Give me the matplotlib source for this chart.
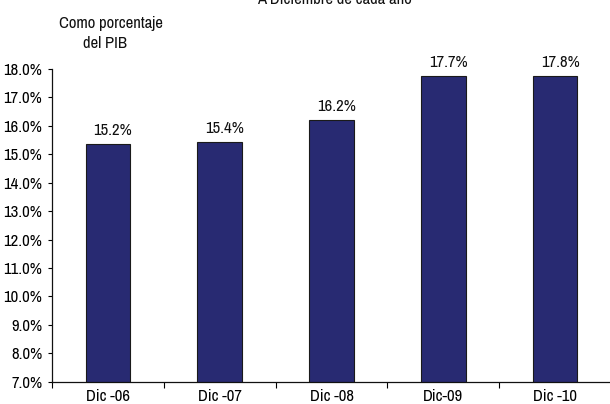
import matplotlib
matplotlib.use("Agg")
import logging
import matplotlib.pyplot as plt
from matplotlib.ticker import FixedLocator, FuncFormatter

logging.getLogger("matplotlib.font_manager").setLevel(logging.ERROR)
plt.rcParams['font.family'] = ['Liberation Sans Narrow', 'Arial Narrow', 'Archivo Narrow',
                               'Liberation Sans', 'DejaVu Sans']

# data
categories = ["Dic -06", "Dic -07", "Dic -08", "Dic-09", "Dic -10"]
values = [15.35, 15.44, 16.2, 17.76, 17.77]
value_labels = ["15.2%", "15.4%", "16.2%", "17.7%", "17.8%"]
y_ticks = [7, 8, 9, 10, 11, 12, 13, 14, 15, 16, 17, 18]

bar_color = "#282a72"
fs = 12

fig = plt.figure(figsize=(6.10, 4.04), dpi=100)
ax = fig.add_axes([52 / 610, 22.3 / 404, 559 / 610, 312.7 / 404])

x = list(range(len(categories)))
bars = ax.bar(x, values, width=0.4, color=bar_color, edgecolor="#1a1a1a", linewidth=0.8, zorder=2)

for xi, v, lab in zip(x, values, value_labels):
    ax.annotate(lab, (xi, v), xytext=(5, 6), textcoords="offset pixels",
                ha="center", va="bottom", fontsize=fs, color="#111111")

ax.set_xlim(-0.5, 4.5)
ax.set_ylim(7, 18)
ax.set_yticks(y_ticks)
ax.yaxis.set_major_formatter(FuncFormatter(lambda v, p: "%.1f%%" % v))
ax.set_xticks(x)
ax.set_xticklabels(categories)
ax.xaxis.set_minor_locator(FixedLocator([i - 0.5 for i in range(len(categories))]))
ax.tick_params(axis="x", which="major", length=0, pad=5, labelsize=fs)
ax.tick_params(axis="x", which="minor", length=4, width=0.8, direction="out")
ax.tick_params(axis="y", length=3, width=0.8, direction="out", pad=4, labelsize=fs)

for s in ["top", "right"]:
    ax.spines[s].set_visible(False)
for s in ["left", "bottom"]:
    ax.spines[s].set_linewidth(0.9)
    ax.spines[s].set_color("#111111")

fig.text(334 / 610, 1 - 4 / 404, "A Diciembre de cada año", ha="center", va="baseline",
         fontsize=fs, color="#111111")
fig.text(111 / 610, 1 - 28 / 404, "Como porcentaje", ha="center", va="baseline",
         fontsize=fs, color="#111111")
fig.text(105 / 610, 1 - 48 / 404, "del PIB", ha="center", va="baseline",
         fontsize=fs, color="#111111")

fig.savefig("out.png", dpi=100)
